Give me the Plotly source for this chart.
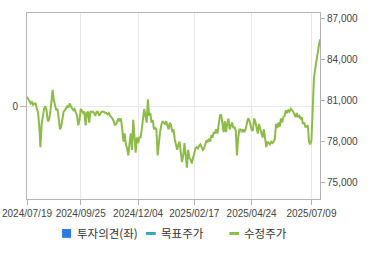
import pandas as pd
import plotly.graph_objects as go

# ---- data ----
holidays = ["2024-08-15", "2024-09-16", "2024-09-17", "2024-09-18", "2024-10-01",
            "2024-10-03", "2024-10-09", "2024-12-25", "2024-12-31", "2025-01-01",
            "2025-01-27", "2025-01-28", "2025-01-29", "2025-01-30", "2025-03-03",
            "2025-05-01", "2025-05-05", "2025-05-06", "2025-06-03", "2025-06-06"]
dates = [d.strftime("%Y/%m/%d") for d in pd.bdate_range("2024-07-19", "2025-07-18")
         if d.strftime("%Y-%m-%d") not in holidays]

price = [
    81300, 81100, 80900, 80800, 80900, 80700, 80800, 80800, 80400, 80200, 79200, 77600, 79300,
    80000, 80400, 80600, 80300, 79500, 79600, 80100, 81200, 81800, 81000, 80700, 80300, 80400,
    79600, 78900, 79100, 79700, 80200,
    80300, 80500, 80600, 80500, 80800, 80600, 80400, 80300, 80400, 80100, 79900, 79200, 79600,
    80400, 80200, 80100, 80200, 79200, 80100, 80200, 79400, 80200, 80200, 80200, 80100, 79900,
    80200, 80200, 79900, 80100, 80200,
    80200, 80200, 80100, 80100, 80000, 80100, 79900, 79800, 79700, 79500, 79200, 79300, 79500,
    79700, 79500, 79700, 78900, 78000, 78600, 77800, 77500, 77000, 77900, 78600, 77400, 79600,
    78400, 77200, 78300, 77900, 78300,
    78300, 78900, 79800, 80400, 79900, 79400, 81100, 79900, 80100, 79400, 79600, 78900, 79000,
    78900, 77000, 78100, 78700, 79200, 79500, 79400, 79300, 79500, 79200, 78900, 79400, 79200,
    78700, 78900, 78200, 77700, 77400,
    77800, 78000, 77200, 76500, 77000, 77900, 77000, 76100, 77400, 76800, 76700, 76400, 76800,
    77300, 77500, 77600, 77500, 77700, 77800, 77600, 77400, 77500, 77900, 78100, 78000, 78200,
    78000, 78500, 78300, 78700, 78600,
    78900, 78600, 79400, 79900, 80000, 79400, 78700, 79500, 78700, 79300, 79700, 78900, 79200,
    79400, 79000, 79100, 78800, 77000, 78300, 78900, 78900, 78700, 78900, 78700, 78900, 79400,
    79700, 79600, 79300, 78900, 78800,
    79700, 79500, 78900, 78600, 79300, 78900, 78700, 78300, 78900, 78100, 77600, 78000, 77900,
    77800, 78000, 77900, 78000, 78200, 79300, 79000, 79400, 79100, 79700, 79400, 79800, 79900,
    80300, 80100, 80300, 80200, 80400,
    80300, 80200, 80000, 79800, 80100, 79800, 79900, 79700, 79800, 79300, 79400, 79100, 79100,
    79200, 78000, 77800, 78100, 81000, 82600, 83300, 84000, 84300, 85000, 85500,
]
dates = dates[:len(price)]

x_ticks = ["2024/07/19", "2024/09/25", "2024/12/04", "2025/02/17", "2025/04/24", "2025/07/09"]
y2_ticks = [75000, 78000, 81000, 84000, 87000]
legend_names = ["투자의견(좌)", "목표주가", "수정주가"]
legend_colors = ["#2b7be3", "#35a6b8", "#8cbb48"]

# ---- figure ----
fig = go.Figure()
fig.add_trace(go.Bar(x=[], y=[], name=legend_names[0], marker_color=legend_colors[0],
                     yaxis="y", showlegend=False))
fig.add_trace(go.Scatter(x=[], y=[], name=legend_names[1], mode="lines",
                         line=dict(color=legend_colors[1]), yaxis="y2", showlegend=False))
fig.add_trace(go.Scatter(x=dates, y=price, name=legend_names[2], mode="lines",
                         line=dict(color=legend_colors[2], width=2), yaxis="y2",
                         showlegend=False, hoverinfo="x+y"))

axis_col = "#b4b4b4"
grid_col = "#e8e8e8"
tick_font = dict(family="Liberation Sans, Arial, sans-serif", size=10, color="#444444")

fig.update_layout(
    width=370, height=255,
    margin=dict(l=27, r=48, t=12, b=54),
    paper_bgcolor="white", plot_bgcolor="white",
    showlegend=False,
    xaxis=dict(type="category", categoryorder="array", categoryarray=dates,
               range=[0, len(dates) - 1], tickmode="array", tickvals=x_ticks, ticktext=x_ticks,
               showgrid=True, gridcolor=grid_col, gridwidth=1,
               showline=True, linecolor=axis_col, linewidth=1, mirror=True,
               ticks="outside", ticklen=5, tickcolor=axis_col, tickfont=tick_font,
               zeroline=False, fixedrange=True),
    yaxis=dict(range=[-1, 1], tickmode="array", tickvals=[0], ticktext=["0"],
               showgrid=True, gridcolor=grid_col, zeroline=False,
               showline=True, linecolor=axis_col, linewidth=1,
               ticks="outside", ticklen=6, tickcolor=axis_col, tickfont=tick_font),
    yaxis2=dict(overlaying="y", side="right", range=[73800, 87430],
                tickmode="array", tickvals=y2_ticks, tickformat=",d",
                showgrid=False, zeroline=False,
                showline=True, linecolor=axis_col, linewidth=1,
                ticks="outside", ticklen=4, tickcolor=axis_col, tickfont=tick_font),
)

# custom legend (pixel positions converted to paper coords)
def px(xp):
    return (xp - 27) / 295.0

def py(yp):
    return (201 - yp) / 189.0

ly = 236
leg_font = dict(family="Noto Sans CJK KR, sans-serif", size=11.5, color="#333333")
fig.add_shape(type="rect", xref="paper", yref="paper", x0=px(62.3), x1=px(71.3),
              y0=py(240.5), y1=py(231.5), fillcolor=legend_colors[0], line=dict(width=0))
fig.add_shape(type="line", xref="paper", yref="paper", x0=px(146.7), x1=px(156.7),
              y0=py(ly), y1=py(ly), line=dict(color=legend_colors[1], width=3))
fig.add_shape(type="line", xref="paper", yref="paper", x0=px(230.7), x1=px(240.5),
              y0=py(ly), y1=py(ly), line=dict(color=legend_colors[2], width=3))
for xt, name in zip([75.5, 160, 243.3], legend_names):
    fig.add_annotation(xref="paper", yref="paper", x=px(xt), y=py(ly), text=name,
                       showarrow=False, xanchor="left", yanchor="middle", font=leg_font)

fig.write_html("out.html")
